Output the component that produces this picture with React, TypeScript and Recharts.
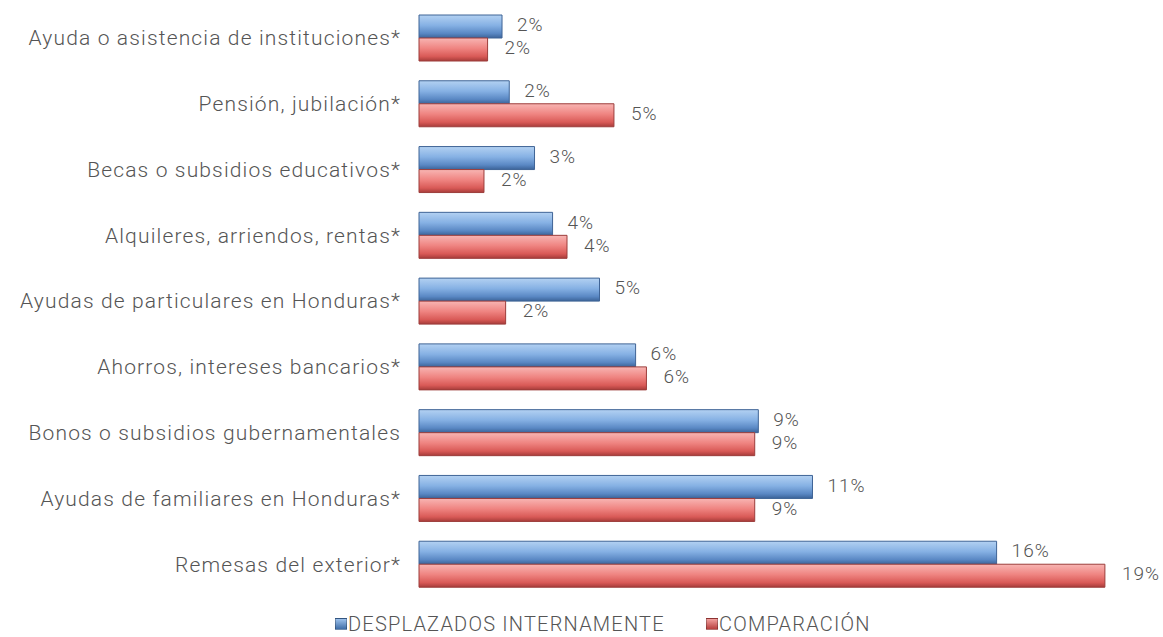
import { Bar, BarChart, LabelList, XAxis, YAxis } from "recharts";

// Top to bottom.
const CATEGORIES = [
  "Ayuda o asistencia de instituciones*",
  "Pensión, jubilación*",
  "Becas o subsidios educativos*",
  "Alquileres, arriendos, rentas*",
  "Ayudas de particulares en Honduras*",
  "Ahorros, intereses bancarios*",
  "Bonos o subsidios gubernamentales",
  "Ayudas de familiares en Honduras*",
  "Remesas del exterior*",
];

// Bar lengths (percent).
const DESPLAZADOS = [2.3, 2.5, 3.2, 3.7, 5.0, 6.0, 9.4, 10.9, 16.0];
const COMPARACION = [1.9, 5.4, 1.8, 4.1, 2.4, 6.3, 9.3, 9.3, 19.0];

// Printed labels, as they appear next to each bar.
const DESPLAZADOS_LABELS = ["2%", "2%", "3%", "4%", "5%", "6%", "9%", "11%", "16%"];
const COMPARACION_LABELS = ["2%", "5%", "2%", "4%", "2%", "6%", "9%", "9%", "19%"];

const SERIES_NAMES = ["DESPLAZADOS INTERNAMENTE", "COMPARACIÓN"];

const data = CATEGORIES.map((name, i) => ({
  name,
  desplazados: DESPLAZADOS[i],
  comparacion: COMPARACION[i],
  dLabel: DESPLAZADOS_LABELS[i],
  cLabel: COMPARACION_LABELS[i],
}));

const FONT = "Roboto, 'Liberation Sans', Arial, sans-serif";
const TEXT = "#555555";

const labelStyle = { fill: TEXT, fontSize: 19, fontFamily: FONT, fontWeight: 300, letterSpacing: 1 };

function LegendItem({ left, grad, text }: { left: number; grad: string; text: string }) {
  return (
    <div
      style={{
        position: "absolute",
        left,
        top: 613,
        height: 22,
        lineHeight: "22px",
        display: "flex",
        alignItems: "center",
        whiteSpace: "nowrap",
        fontFamily: FONT,
        fontWeight: 300,
        fontSize: 20,
        letterSpacing: 1.2,
        color: TEXT,
      }}
    >
      <span
        style={{
          display: "inline-block",
          width: 12,
          height: 12,
          marginRight: 1,
          background: grad,
          border: "1px solid rgba(0,0,0,0.25)",
          boxSizing: "border-box",
        }}
      />
      {text}
    </div>
  );
}

export default function App() {
  return (
    <div style={{ position: "absolute", left: 0, top: 0, width: 1163, height: 637, background: "#fff" }}>
      <BarChart
        width={1163}
        height={602}
        data={data}
        layout="vertical"
        margin={{ top: 5, right: 22, bottom: 5, left: 0 }}
        barSize={23}
        barGap={0}
        barCategoryGap="15%"
      >
        <defs>
          <linearGradient id="gBlue" x1="0" y1="0" x2="0" y2="1">
            <stop offset="0%" stopColor="#b3d1f2" />
            <stop offset="45%" stopColor="#86b1e4" />
            <stop offset="80%" stopColor="#5a88c4" />
            <stop offset="100%" stopColor="#3b6398" />
          </linearGradient>
          <linearGradient id="gRed" x1="0" y1="0" x2="0" y2="1">
            <stop offset="0%" stopColor="#f8b5b3" />
            <stop offset="45%" stopColor="#ef8481" />
            <stop offset="80%" stopColor="#d95a57" />
            <stop offset="100%" stopColor="#a73c3a" />
          </linearGradient>
        </defs>
        <XAxis type="number" domain={[0, 20]} hide />
        <YAxis
          type="category"
          dataKey="name"
          width={419}
          axisLine={false}
          tickLine={false}
          tickSize={8}
          tickMargin={10}
          interval={0}
          tick={{ fill: TEXT, fontSize: 21, fontFamily: FONT, fontWeight: 300, letterSpacing: 1.15 }}
        />
        <Bar
          dataKey="desplazados"
          fill="url(#gBlue)"
          stroke="#3f6496"
          strokeWidth={1}
          isAnimationActive={false}
        >
          <LabelList dataKey="dLabel" position="right" offset={15} dy={-2} style={labelStyle} />
        </Bar>
        <Bar
          dataKey="comparacion"
          fill="url(#gRed)"
          stroke="#9c3d3b"
          strokeWidth={1}
          isAnimationActive={false}
        >
          <LabelList dataKey="cLabel" position="right" offset={17} dy={-2} style={labelStyle} />
        </Bar>
      </BarChart>
      <LegendItem left={335} grad="linear-gradient(#9cc1ec, #3f6ea8)" text={SERIES_NAMES[0]} />
      <LegendItem left={706} grad="linear-gradient(#f2a09d, #b8403e)" text={SERIES_NAMES[1]} />
    </div>
  );
}
